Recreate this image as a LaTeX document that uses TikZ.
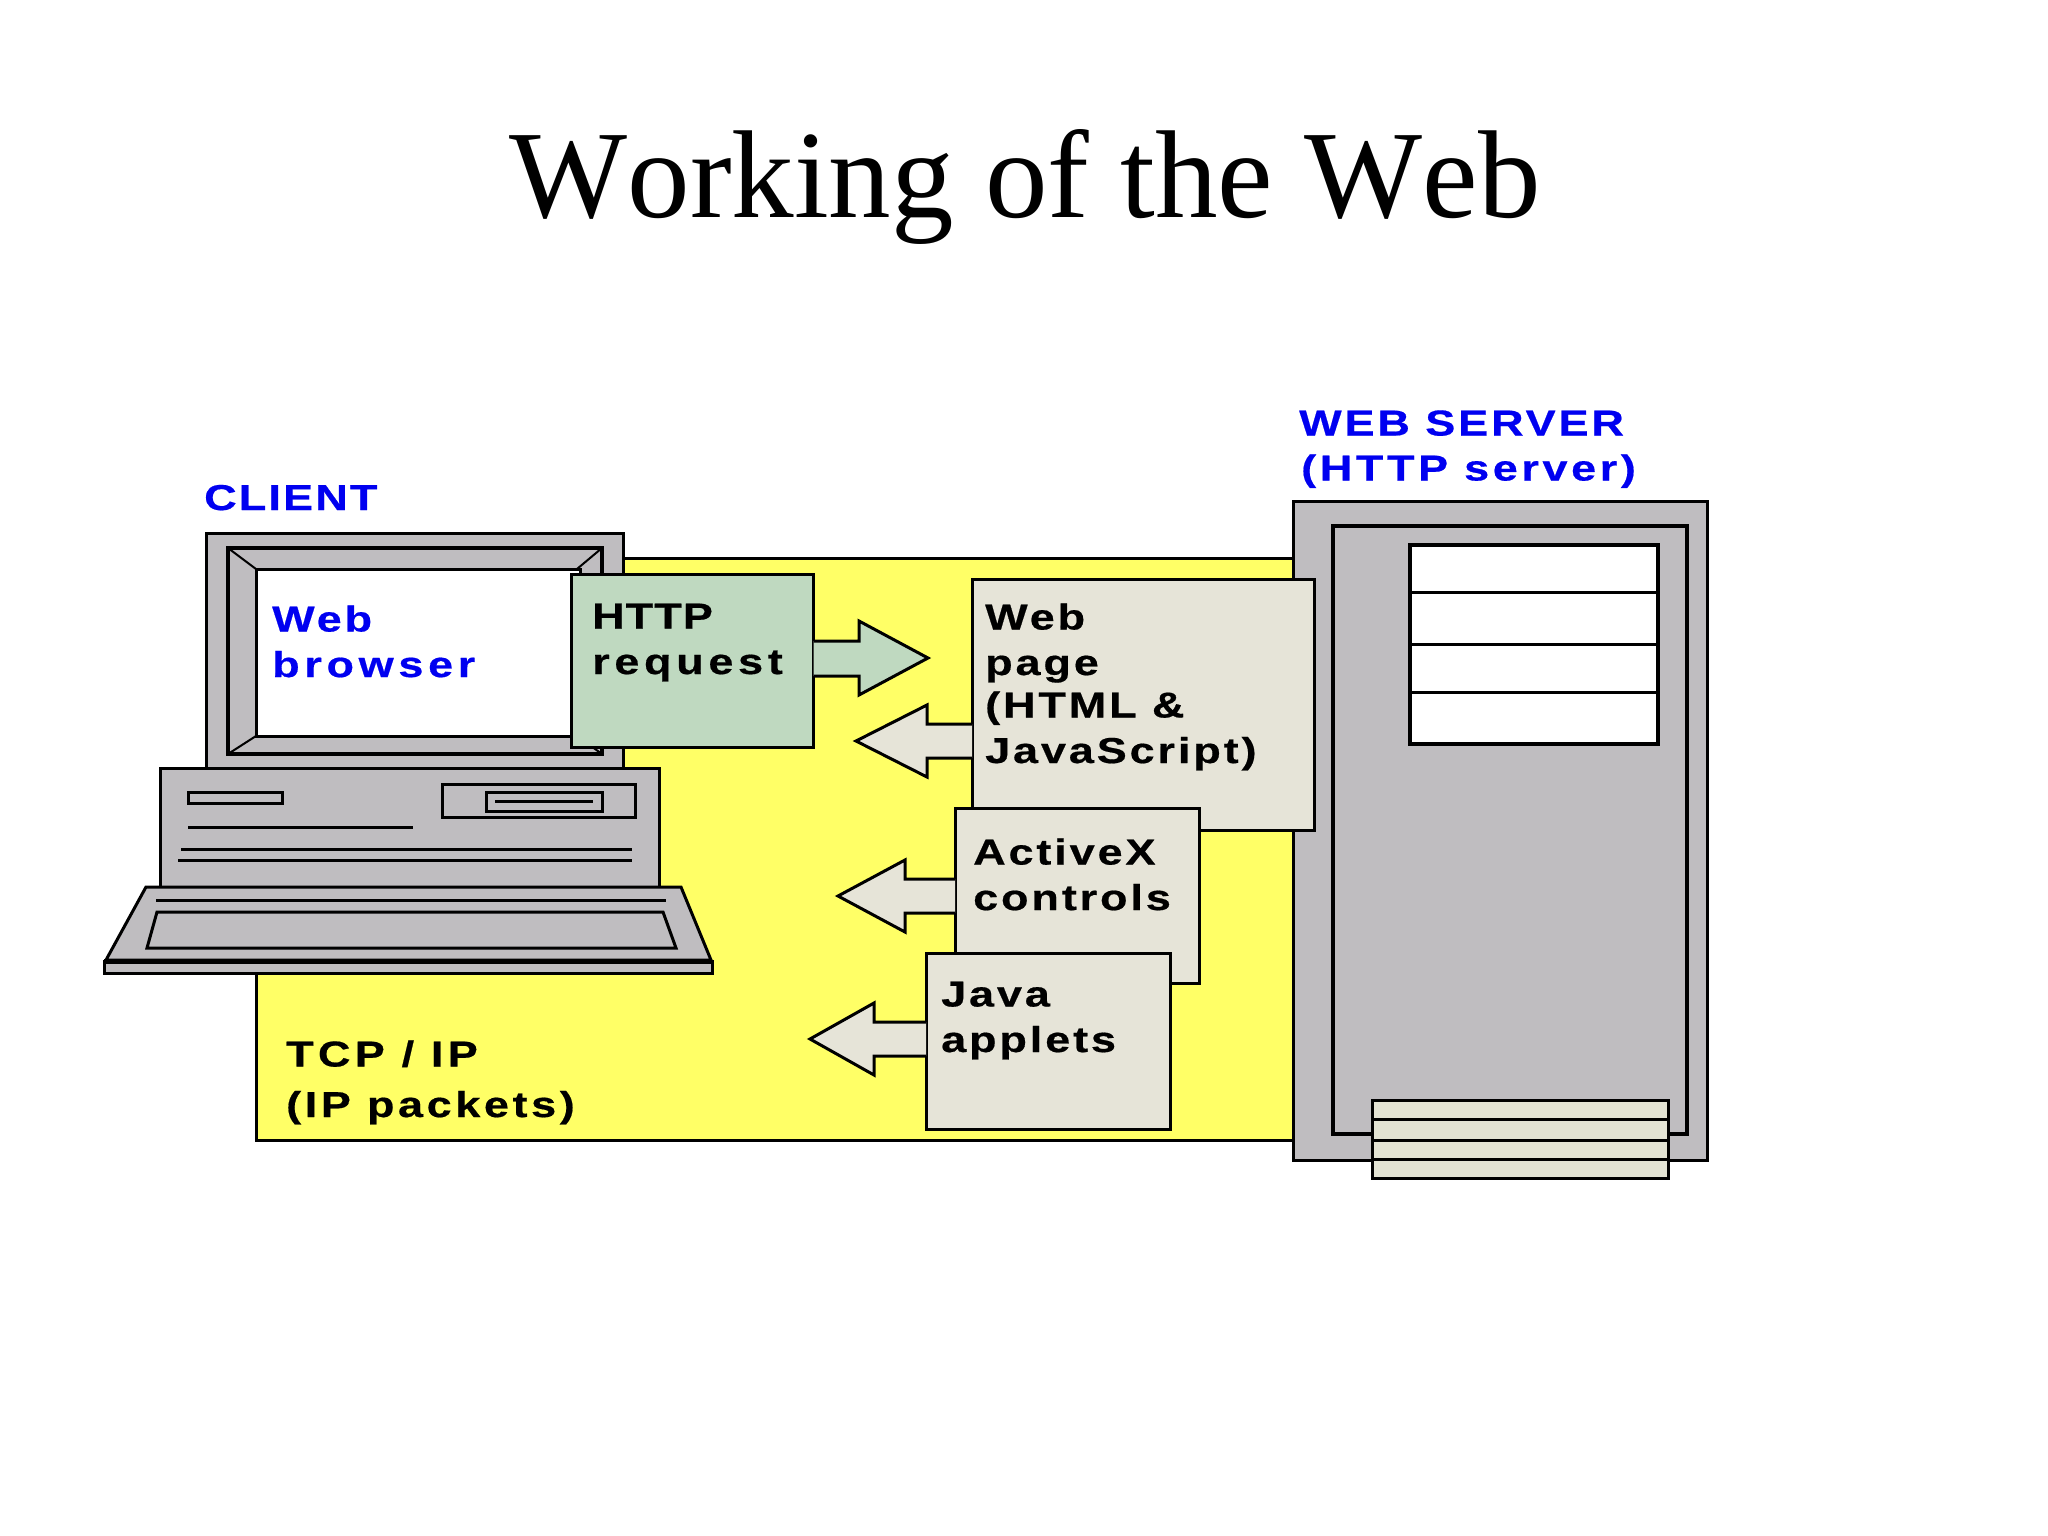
\documentclass[tikz,border=0pt]{standalone}
\usepackage{fontspec}
\setmainfont{Liberation Sans}
\newfontfamily\headfont[Kerning=Off]{Liberation Serif}
\newfontfamily\tagfont[FakeStretch=1.25,LetterSpace=8,BoldFeatures={FakeBold=0.5}]{Liberation Sans}
\newcommand{\tagspace}[2]{{\addfontfeature{LetterSpace=#1}#2}}
\definecolor{casegray}{HTML}{BFBDC0}
\definecolor{netyellow}{HTML}{FFFF66}
\definecolor{reqgreen}{HTML}{BFD9C0}
\definecolor{pagecream}{HTML}{E6E4D8}
\definecolor{drawercream}{HTML}{E3E3D3}
\definecolor{tagblue}{HTML}{0000F0}
\tikzset{
  line/.style={draw=black,line width=3pt},
  gray/.style={line,fill=casegray},
  panel/.style={line,anchor=north west,inner sep=0pt,outer sep=0pt},
  tag/.style={anchor=base west,inner sep=0pt,align=left,font=\fontsize{36}{45.5}\selectfont\tagfont\bfseries},
  bluetag/.style={tag,text=tagblue}
}
\begin{document}
\begin{tikzpicture}[x=1pt,y=-1pt]
\useasboundingbox[fill=white] (0,0) rectangle (2048,1536);
\node[anchor=base,inner sep=0pt,font=\fontsize{125}{125}\selectfont\headfont] (title) at (1025,217) {Working of the Web};
\node[panel,fill=netyellow,minimum width=1038pt,minimum height=582pt] (network) at (256,558) {};
\node[bluetag] (client) at (204,510) {\tagspace{6}{CLIENT}};
\node[bluetag] (server) at (1299,480.5) {WEB SERVER\\[-0.5pt]\hspace*{2pt}\tagspace{10}{(HTTP server)}};
\draw[gray] (1293,501) rectangle (1707,1160); \draw[gray,line width=4pt] (1333,526) rectangle (1687,1134);
\draw[line,fill=white,line width=4pt] (1410,545) rectangle (1658,744);
\foreach \y in {592,644,692} { \draw[line] (1410,\y) -- (1658,\y); };
\draw[gray] (206,533) rectangle (623,768); \draw[gray,line width=4pt] (228,548) rectangle (602,754);
\draw[line,fill=white] (256,569) rectangle (580,736);
\foreach \a/\b in {228/548,602/548,228/754,602/754} { \draw[line,line width=2pt] (\a,\b) -- ({\a<400 ? 256 : 577},{\b<600 ? 569 : 736}); };
\node[bluetag] (browser) at (272,677) {Web\\\tagspace{13}{browser}};
\draw[gray] (160,768) rectangle (659,887);
\draw[line] (188,792) rectangle (282,803); \draw[line] (442,784) rectangle (635,817); \draw[line] (486,792) rectangle (602,811);
\draw[line] (495,801) -- (593,801); \draw[line] (188,827) -- (413,827);
\draw[line] (181,849) -- (632,849); \draw[line] (178,860) -- (632,860);
\draw[gray] (146,887) -- (681,887) -- (711,960) -- (106,960) -- cycle;
\draw[line] (156,900) -- (666,900); \draw[line] (157,912) -- (663,912) -- (676,948) -- (147,948) -- cycle;
\draw[gray] (104,961) rectangle (712,973); \draw[line,line width=5pt] (104,961) -- (712,961);
\node[panel,fill=reqgreen,minimum width=242pt,minimum height=173pt] (request) at (571.5,574.5) {};
\node[tag] (requesttext) at (592,674) {\tagspace{3}{HTTP}\\\tagspace{13}{request}};
\node[panel,fill=pagecream,minimum width=342pt,minimum height=251pt] (page) at (972,579.5) {};
\node[panel,fill=pagecream,minimum width=244pt,minimum height=175pt] (activex) at (955,808) {};
\node[panel,fill=pagecream,minimum width=244pt,minimum height=176pt] (applets) at (926,953) {};
\node[tag] (pagetext) at (985,763) {Web\\page\\[-3pt](HTML \&\\JavaScript)};
\node[tag] (activextext) at (973,910) {ActiveX\\controls};
\node[tag] (appletstext) at (941,1052) {Java\\applets};
\node[tag] (tcpip) at (286,1117) {\tagspace{12}{TCP / IP}\\[5pt]\tagspace{10}{(IP packets)}};
\filldraw[line,fill=reqgreen] (request.east |- 0,641) -- (859,641) -- (859,621) -- (928,658) -- (859,695) -- (859,676) -- (request.east |- 0,676);
\foreach \from/\tipx/\tipy/\basex in {page/856/741/927,activex/838/896/905,applets/810/1039/874} {
  \filldraw[line,fill=pagecream] (\from.west |- 0,\tipy-17) -- (\basex,\tipy-17) -- (\basex,\tipy-36) -- (\tipx,\tipy) -- (\basex,\tipy+36) -- (\basex,\tipy+17) -- (\from.west |- 0,\tipy+17);
};
\draw[line,fill=drawercream] (1372,1100) rectangle (1668,1178);
\foreach \y in {1119,1140,1159} { \draw[line] (1372,\y) -- (1668,\y); };
\end{tikzpicture}
\end{document}
